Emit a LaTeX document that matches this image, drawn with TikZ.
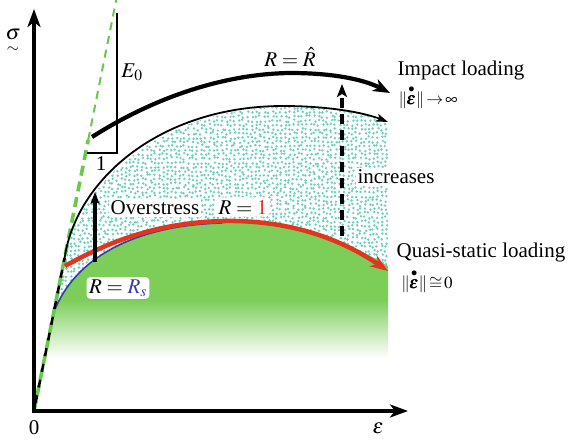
\documentclass[tikz,border=0pt]{standalone}
\usepackage{amsmath}
\usepackage{mathptmx}
\usepackage[no-math]{fontspec}
\setmainfont{Liberation Serif}
\usetikzlibrary{arrows.meta}
\definecolor{gdash}{RGB}{104,200,72}
\definecolor{gfill}{RGB}{124,206,88}
\definecolor{dotc}{RGB}{110,206,192}
\definecolor{redc}{RGB}{226,52,30}
\definecolor{bluec}{RGB}{58,58,176}
\begin{document}
\begin{tikzpicture}[x=1pt,y=-1pt,
  font=\fontsize{21}{25}\selectfont,
  wbox/.style={fill=white, rounded corners=4pt, inner sep=2.5pt},
  plain/.style={inner sep=1pt},
  ratelbl/.style={inner sep=1pt, font=\fontsize{17}{20}\selectfont},
  ]
\useasboundingbox (0,0) rectangle (568,443);
% key points
\coordinate (O) at (34,411);
\coordinate (K) at (64.6,258);
\coordinate (B0) at (53.6,313);
\coordinate (G1) at (88.2,140);
\coordinate (G2) at (116.2,0);
\coordinate (Ytip) at (34,9);
\coordinate (Xtip) at (408,411);
% dotted region
\begin{scope}
  \clip (B0) -- (K) .. controls (78,185) and (160,108) .. (283,107)
        .. controls (330,106) and (365,113) .. (388,122) -- (388,266)
        .. controls (350,243) and (300,221) .. (222,223)
        .. controls (140,225) and (75,255) .. (B0) -- cycle;
  \pgfmathsetseed{12}
  \foreach \gx in {50,54.2,...,392}{
    \foreach \gy in {104,108.2,...,316}{
      \fill[dotc] ({\gx+1.3*rand},{\gy+1.3*rand}) circle[radius=1.35pt];
    }
  }
\end{scope}
% green region
\begin{scope}
  \clip (B0) .. controls (75,255) and (140,225) .. (222,223)
        .. controls (300,221) and (350,243) .. (388,266)
        -- (388,362) -- (44,362) -- cycle;
  \fill[gfill] (30,200) rectangle (400,300);
  \shade[top color=gfill, bottom color=white] (30,299.5) rectangle (400,358);
\end{scope}
% blue curve R = R_s
\draw[bluec, line width=1.6] (B0) .. controls (75,255) and (140,225) .. (222,223);
% linear elastic line
\draw[gdash, line width=2, dash pattern=on 8 off 6] (G1) -- (G2);
\draw[gdash, line width=3.6, dash pattern=on 10 off 6] (O) -- (G1);
\draw[black, line width=2.6, dash pattern=on 8 off 8, dash phase=8] (O) -- (K);
% triangle
\draw[line width=1.2] (117,13) coordinate (T1) -- (117,153) coordinate (T2) -- (87,153) coordinate (T3);
\node[plain] (E0) at (132,72) {$E_0$};
\node[plain] (one) at (101,164) {1};
% hardening curve (upper boundary)
\draw[line width=1.8, -{Stealth[length=12pt,width=8pt,inset=3pt]}] (K) .. controls (76,180) and (160,106) .. (283,106)
        .. controls (330,106) and (365,113) .. (388,122);
% thick curve R = R hat
\coordinate (R0) at (92,137);
\coordinate (R1) at (390,93);
\draw[line width=4.2, -{Stealth[length=17pt,width=13pt,inset=5pt]}] (R0) .. controls (150,100) and (220,74) .. (290,73)
      .. controls (335,73) and (365,80) .. (R1);
% red curve R = 1
\coordinate (Q0) at (65,266);
\coordinate (Q1) at (388,271);
\draw[redc, line width=4.5, -{Stealth[length=18pt,width=13pt,inset=6pt]}] (Q0) .. controls (120,235) and (170,222) .. (225,221)
      .. controls (300,220) and (350,245) .. (Q1);
% overstress arrow
\coordinate (V0) at (95,262);
\coordinate (V1) at (95,192);
\draw[line width=3.2, -{Stealth[length=12pt,width=9pt,inset=3pt]}] (V0) -- (V1);
% increases arrow
\coordinate (D0) at (342,236);
\coordinate (D1) at (342,84);
\draw[line width=3.6, dash pattern=on 10 off 6, -{Stealth[length=13pt,width=10pt,inset=3pt]}] (D0) -- (D1);
% axes
\draw[line width=4, line join=miter, {Stealth[length=18pt,width=13pt,inset=5pt]}-{Stealth[length=18pt,width=13pt,inset=5pt]}] (Ytip) -- (O) -- (Xtip);
% labels
\node[plain] (sig) at (13,42) {$\underset{\sim}{\sigma}$};
\node[plain] (zero) at (34,428) {0};
\node[plain] (eps) at (378,428) {$\varepsilon$};
\node[plain] (Rhat) at (290,57) {$R=\hat{R}$};
\node[plain] (imp) at (461,70) {Impact loading};
\node[ratelbl] (impr) at (428,97) {$\|\overset{\bullet}{\pmb{\varepsilon}}\|\mkern-2mu\to\mkern-2mu\infty$};
\node[fill=white, inner sep=2pt] (inc) at (396,177) {increases};
\node[plain] (qs) at (481,252) {Quasi-static loading};
\node[ratelbl] (qsr) at (427,281) {$\|\overset{\bullet}{\pmb{\varepsilon}}\|\mkern-2mu\cong\mkern-2mu 0$};
\node[fill=white, inner sep=2pt] (ovs) at (155,208) {Overstress};
\node[wbox] (R1lbl) at (243,207) {$R=\textcolor{redc}{1}$};
\node[wbox] (Rslbl) at (118,288) {$R=\textcolor{bluec}{R_s}$};
\end{tikzpicture}
\end{document}
